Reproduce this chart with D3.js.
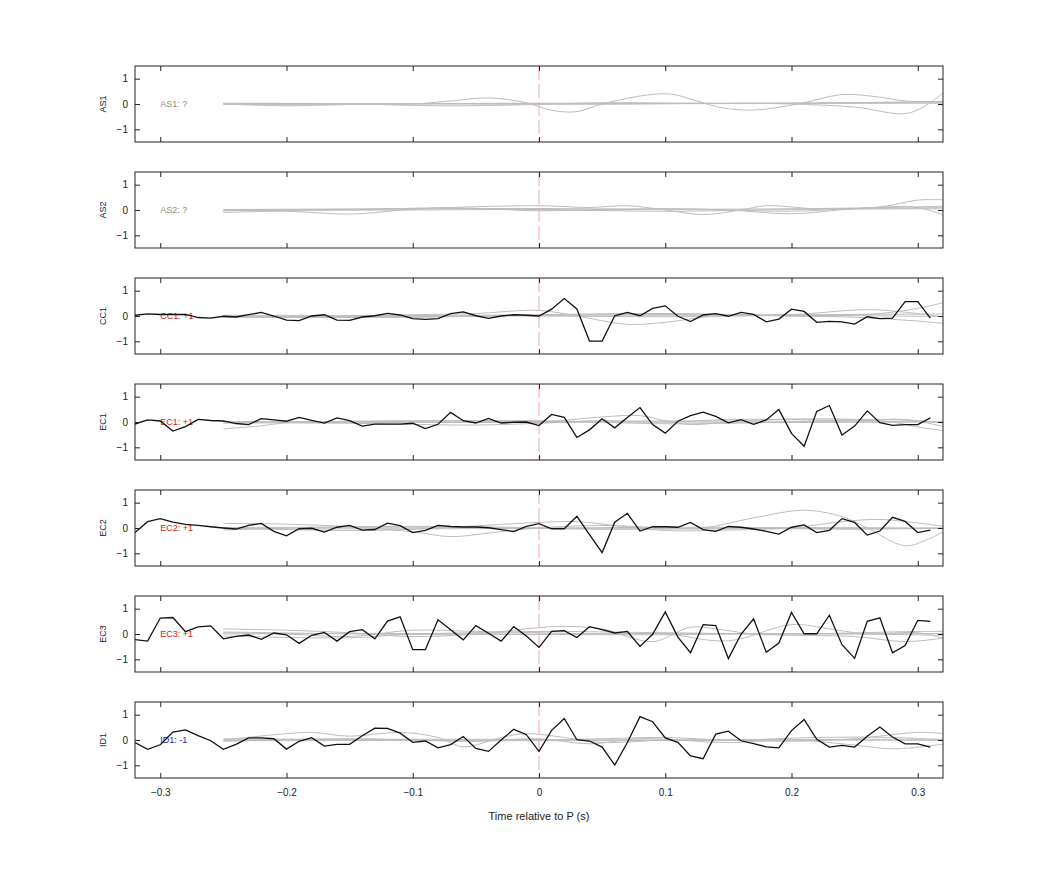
<!DOCTYPE html>
<html><head><meta charset="utf-8">
<script src="https://cdn.jsdelivr.net/npm/d3@7"></script>
<style>body{margin:0;background:#fff}</style>
</head><body>
<svg id="chart" width="1042" height="875"></svg>
<script>
const channels = ["AS1","AS2","CC1","EC1","EC2","EC3","ID1"];
const annotations = ["AS1: ?","AS2: ?","CC1: +1","EC1: +1","EC2: +1","EC3: +1","ID1: -1"];
const annotColors = ["#8a8a8a","#8a8a8a","#d42020","#d42020","#d42020","#d42020","#2020c8"];
const xTicks = [-0.3,-0.2,-0.1,0,0.1,0.2,0.3];
const yTicks = [-1,0,1];
const times = [-0.32,-0.31,-0.30,-0.29,-0.28,-0.27,-0.26,-0.25,-0.24,-0.23,-0.22,-0.21,-0.20,-0.19,-0.18,-0.17,-0.16,-0.15,-0.14,-0.13,-0.12,-0.11,-0.10,-0.09,-0.08,-0.07,-0.06,-0.05,-0.04,-0.03,-0.02,-0.01,0.00,
  0.01,0.02,0.03,0.04,0.05,0.06,0.07,0.08,0.09,0.10,0.11,0.12,0.13,0.14,0.15,0.16,0.17,0.18,0.19,0.20,0.21,0.22,0.23,0.24,0.25,0.26,0.27,0.28,0.29,0.30,0.31];

const blackCC1 = [0.03,0.08,0.06,0.06,0.06,-0.06,-0.08,-0.01,-0.04,0.05,0.14,0,-0.16,-0.18,0,0.05,-0.16,-0.17,-0.04,0.01,0.1,0.04,-0.1,-0.13,-0.1,0.09,0.16,0.01,-0.09,0,0.05,0.03,0,
  0.27,0.69,0.28,-0.99,-0.99,0.01,0.14,0.01,0.3,0.4,-0.01,-0.22,0.04,0.09,-0.01,0.14,0.06,-0.23,-0.12,0.27,0.18,-0.25,-0.21,-0.23,-0.32,-0.03,-0.1,-0.08,0.57,0.57,-0.08];
const blackEC1 = [-0.08,0.08,0.04,-0.36,-0.18,0.1,0.06,0.04,-0.06,-0.1,0.13,0.08,0.03,0.18,0.06,-0.04,0.16,0.05,-0.16,-0.08,-0.08,-0.08,-0.05,-0.26,-0.09,0.38,0.05,-0.04,0.14,-0.04,-0.01,0,-0.14,
  0.3,0.18,-0.61,-0.31,0.13,-0.23,0.18,0.57,-0.1,-0.44,0.03,0.25,0.39,0.22,-0.03,0.09,-0.09,0.08,0.49,-0.45,-0.96,0.42,0.65,-0.51,-0.16,0.44,-0.03,-0.13,-0.1,-0.1,0.16];
const blackEC2 = [-0.18,0.25,0.37,0.23,0.14,0.1,0.05,0,-0.04,0.1,0.18,-0.13,-0.31,-0.03,-0.01,-0.16,0.03,0.1,-0.08,-0.06,0.19,0.09,-0.18,-0.09,0.1,0.06,0.04,0.04,0.01,-0.06,-0.14,0.06,0.17,
  -0.03,-0.03,0.46,-0.26,-0.97,0.23,0.58,-0.12,0.05,0.05,0.03,0.22,-0.06,-0.13,0.06,0.03,-0.04,-0.13,-0.24,0.03,0.12,-0.18,-0.09,0.37,0.22,-0.28,-0.12,0.42,0.26,-0.18,-0.08];
const blackEC3 = [-0.22,-0.28,0.63,0.65,0.09,0.28,0.32,-0.19,-0.09,-0.04,-0.21,0.04,-0.03,-0.37,-0.05,0.06,-0.28,0.09,0.17,-0.19,0.51,0.68,-0.62,-0.62,0.56,0.17,-0.23,0.33,0.03,-0.28,0.29,-0.08,-0.53,
  0.1,0.13,-0.14,0.29,0.17,0.04,0.1,-0.49,-0.01,0.87,-0.12,-0.74,0.37,0.33,-0.97,-0.01,0.6,-0.72,-0.36,0.85,0.01,0.01,0.74,-0.42,-0.96,0.5,0.64,-0.74,-0.46,0.54,0.5];
const blackID1 = [-0.1,-0.37,-0.19,0.31,0.4,0.17,-0.03,-0.37,-0.17,0.08,0.08,0.05,-0.36,-0.05,0.09,-0.24,-0.17,-0.17,0.17,0.47,0.46,0.27,-0.09,-0.04,-0.31,-0.18,0.14,-0.33,-0.45,0,0.42,0.21,-0.45,
  0.38,0.85,0.01,-0.04,-0.28,-0.99,-0.1,0.92,0.72,0.08,-0.09,-0.63,-0.74,0.23,0.35,-0.03,-0.14,-0.27,-0.31,0.37,0.81,0.03,-0.28,-0.21,-0.28,0.15,0.51,0.12,-0.15,-0.15,-0.28];
const blackSeries = [null,null,blackCC1,blackEC1,blackEC2,blackEC3,blackID1];

// grey reference traces: [time, value] samples
const greyAS1 = [
  [[-0.25,0],[-0.2,-0.03],[-0.15,-0.02],[-0.1,0.0],[-0.07,0.12],[-0.04,0.24],[-0.01,0.05],[0.01,-0.25],[0.03,-0.3],[0.05,0],[0.085,0.35],[0.105,0.39],[0.125,0.12],[0.145,-0.15],[0.17,-0.24],[0.205,0],[0.24,0.37],[0.265,0.3],[0.29,0.12],[0.32,0.06]],
  [[-0.25,0.0],[-0.2,-0.07],[-0.15,-0.02],[-0.05,0.02],[0.05,0.0],[0.15,0.03],[0.2,0.0],[0.25,-0.12],[0.29,-0.38],[0.305,-0.1],[0.322,0.5]],
  [[-0.25,0.02],[-0.15,0.0],[-0.08,-0.07],[-0.03,-0.05],[0.05,0.05],[0.15,0.02],[0.25,0.05],[0.32,0.1]],
  [[-0.25,0.03],[-0.1,0.02],[0.0,0.03],[0.1,0.02],[0.2,0.04],[0.32,0.08]],
  [[-0.25,-0.01],[-0.1,0.0],[0.0,-0.01],[0.1,0.01],[0.2,0.02],[0.32,0.03]]
];
const greyAS2 = [
  [[-0.25,-0.1],[-0.2,-0.05],[-0.15,-0.16],[-0.1,0.03],[-0.07,0.08],[-0.02,0.02],[0.05,0.0],[0.1,0.05],[0.15,0.0],[0.2,-0.05],[0.25,0.05],[0.3,0.08],[0.32,0.1]],
  [[-0.25,0.0],[-0.15,0.02],[-0.08,0.09],[0.0,0.17],[0.04,0.1],[0.07,0.17],[0.1,0.0],[0.13,-0.18],[0.16,0.0],[0.18,0.17],[0.22,0.05],[0.27,0.12],[0.3,0.39],[0.322,0.4]],
  [[-0.25,-0.03],[-0.15,0.02],[-0.05,0.05],[0.0,-0.03],[0.05,0.02],[0.1,0.04],[0.15,0.0],[0.2,-0.15],[0.25,0.05],[0.3,0.1],[0.322,-0.25]],
  [[-0.25,0.02],[-0.1,0.05],[0.0,0.06],[0.1,0.03],[0.2,0.05],[0.28,0.1],[0.32,0.15]],
  [[-0.25,-0.02],[-0.1,0.0],[0.0,0.02],[0.1,-0.05],[0.2,0.02],[0.32,0.05]]
];
const greyCC1 = [
  [[-0.25,0.0],[-0.2,-0.03],[-0.1,0.05],[-0.05,0.1],[0.0,0.22],[0.03,0.0],[0.07,-0.33],[0.1,-0.25],[0.14,0.0],[0.2,0.05],[0.26,0.25],[0.29,0.15],[0.322,-0.05]],
  [[-0.25,-0.05],[-0.15,-0.06],[-0.05,0.0],[0.05,0.05],[0.15,0.05],[0.22,0.0],[0.27,0.1],[0.3,0.3],[0.322,0.55]],
  [[-0.25,0.0],[-0.1,-0.05],[0.0,0.05],[0.1,0.1],[0.2,0.0],[0.25,-0.05],[0.3,-0.2],[0.322,-0.3]],
  [[-0.25,0.03],[-0.1,0.02],[0.0,0.04],[0.1,0.03],[0.2,0.05],[0.322,0.08]],
  [[-0.25,-0.03],[-0.1,-0.02],[0.0,0.0],[0.1,-0.03],[0.2,0.02],[0.322,-0.02]]
];
const greyEC1 = [
  [[-0.25,-0.27],[-0.22,-0.15],[-0.2,-0.03],[-0.15,0.03],[-0.1,0.05],[-0.05,0.05],[0.0,0.0],[0.05,0.2],[0.08,0.25],[0.1,0.05],[0.12,-0.1],[0.15,0.0],[0.2,0.12],[0.25,0.1],[0.28,0.0],[0.3,-0.2],[0.322,-0.35]],
  [[-0.25,0.0],[-0.15,-0.05],[-0.05,-0.12],[0.0,-0.05],[0.05,0.05],[0.1,0.0],[0.15,0.1],[0.2,0.1],[0.25,0.05],[0.29,0.1],[0.322,-0.2]],
  [[-0.25,-0.02],[-0.1,0.03],[0.0,0.05],[0.1,-0.07],[0.15,-0.05],[0.2,0.0],[0.25,0.1],[0.3,0.05],[0.322,-0.05]],
  [[-0.25,0.02],[-0.1,0.0],[0.0,0.02],[0.1,0.04],[0.2,0.03],[0.322,0.02]],
  [[-0.25,-0.04],[-0.1,-0.02],[0.0,-0.02],[0.1,0.0],[0.2,-0.02],[0.322,0.0]]
];
const greyEC2 = [
  [[-0.25,0.18],[-0.2,0.15],[-0.15,0.05],[-0.1,-0.15],[-0.07,-0.34],[-0.04,-0.2],[0.0,0.0],[0.05,0.1],[0.1,0.0],[0.13,0.0],[0.17,0.4],[0.21,0.7],[0.24,0.45],[0.26,0.0],[0.29,-0.7],[0.31,-0.4],[0.322,-0.1]],
  [[-0.25,0.0],[-0.15,-0.1],[-0.1,-0.05],[0.0,0.22],[0.03,0.25],[0.06,0.1],[0.1,-0.1],[0.15,-0.08],[0.2,0.0],[0.24,0.25],[0.27,0.34],[0.3,0.2],[0.322,0.05]],
  [[-0.25,-0.08],[-0.15,0.05],[-0.05,0.05],[0.05,-0.05],[0.15,0.0],[0.25,-0.05],[0.322,0.0]],
  [[-0.25,0.02],[-0.1,0.03],[0.0,0.0],[0.1,0.03],[0.2,0.02],[0.322,0.0]],
  [[-0.25,-0.03],[-0.1,-0.03],[0.0,-0.02],[0.1,-0.04],[0.2,-0.02],[0.322,-0.02]]
];
const greyEC3 = [
  [[-0.25,0.2],[-0.2,0.15],[-0.15,0.05],[-0.1,-0.1],[-0.05,0.0],[0.0,0.25],[0.02,0.3],[0.05,0.2],[0.09,-0.3],[0.12,0.27],[0.14,0.2],[0.17,0.0],[0.2,-0.05],[0.25,-0.1],[0.29,-0.3],[0.322,-0.15]],
  [[-0.25,0.05],[-0.2,0.0],[-0.15,-0.1],[-0.1,0.15],[-0.05,0.1],[0.0,0.05],[0.05,0.0],[0.1,0.0],[0.15,-0.27],[0.2,0.37],[0.23,0.2],[0.26,0.0],[0.3,0.05],[0.322,-0.2]],
  [[-0.25,-0.08],[-0.15,-0.15],[-0.1,0.0],[-0.05,0.05],[0.0,0.1],[0.1,0.05],[0.2,0.0],[0.3,0.1],[0.322,0.1]],
  [[-0.25,0.0],[-0.1,0.02],[0.0,0.0],[0.1,0.02],[0.2,0.0],[0.322,0.02]],
  [[-0.25,0.08],[-0.1,-0.02],[0.0,-0.02],[0.1,-0.03],[0.2,0.02],[0.322,-0.05]]
];
const greyID1 = [
  [[-0.25,0.0],[-0.2,0.25],[-0.18,0.3],[-0.15,0.15],[-0.11,0.3],[-0.08,0.1],[-0.06,-0.27],[-0.03,0.1],[-0.01,0.25],[0.02,0.1],[0.05,-0.1],[0.1,0.0],[0.15,0.0],[0.2,-0.05],[0.25,0.05],[0.3,0.3],[0.322,0.25]],
  [[-0.25,-0.05],[-0.15,0.05],[-0.05,-0.05],[0.0,0.05],[0.04,-0.15],[0.08,0.05],[0.15,-0.1],[0.2,0.0],[0.25,-0.2],[0.28,-0.35],[0.322,-0.15]],
  [[-0.25,0.05],[-0.1,0.0],[0.0,0.0],[0.05,0.05],[0.1,0.1],[0.15,0.0],[0.22,0.1],[0.28,0.1],[0.322,0.0]],
  [[-0.25,0.0],[-0.1,0.03],[0.0,0.02],[0.1,0.0],[0.2,0.02],[0.322,0.03]],
  [[-0.25,-0.03],[-0.1,-0.02],[0.0,-0.03],[0.1,-0.02],[0.2,0.0],[0.322,-0.02]]
];
const greySeries = [greyAS1,greyAS2,greyCC1,greyEC1,greyEC2,greyEC3,greyID1];

const svg = d3.select("#chart");
const left = 135, right = 943, top0 = 66, pH = 76, gap = 106;
const font = "'Liberation Sans', Arial, Helvetica, sans-serif";
const x = d3.scaleLinear().domain([-0.32, 0.32]).range([left, right]);

channels.forEach((ch, i) => {
  const t = top0 + i * gap;
  const y = d3.scaleLinear().domain([-1.5, 1.5]).range([t + pH, t]);
  const g = svg.append("g");
  const clipId = "clip" + i;
  svg.append("clipPath").attr("id", clipId).append("rect")
    .attr("x", left).attr("y", t).attr("width", right - left).attr("height", pH);

  // annotation text (under the lines)
  g.append("text").attr("x", x(-0.3)).attr("y", y(0)).attr("dy", "0.35em")
    .attr("font-family", font).attr("font-size", 9).attr("fill", annotColors[i])
    .text(annotations[i]);

  // zero dashed marker
  g.append("line").attr("x1", x(0)).attr("x2", x(0)).attr("y1", t).attr("y2", t + pH)
    .attr("stroke", "#eca4a4").attr("stroke-width", 1).attr("stroke-dasharray", "14,4");

  const lineG = d3.line().x(d => x(d[0])).y(d => y(d[1])).curve(d3.curveCatmullRom.alpha(0.5));
  const gl = g.append("g").attr("clip-path", `url(#${clipId})`);
  greySeries[i].forEach(s => {
    gl.append("path").attr("d", lineG(s)).attr("fill", "none")
      .attr("stroke", "#bdbdbd").attr("stroke-width", 1);
  });
  if (blackSeries[i]) {
    const lineB = d3.line().x((d, k) => x(times[k])).y(d => y(d));
    gl.append("path").attr("d", lineB(blackSeries[i])).attr("fill", "none")
      .attr("stroke", "#111").attr("stroke-width", 1.3).attr("stroke-linejoin", "miter");
  }

  // frame
  g.append("rect").attr("x", left).attr("y", t).attr("width", right - left).attr("height", pH)
    .attr("fill", "none").attr("stroke", "#222").attr("stroke-width", 1);

  // axes
  const isLast = i === channels.length - 1;
  g.append("g").attr("transform", `translate(0,${t + pH})`)
    .call(d3.axisBottom(x).tickValues(xTicks).tickSize(-5).tickSizeOuter(0).tickPadding(11)
      .tickFormat(isLast ? (d => d === 0 ? "0" : d3.format("")(d)) : () => ""));
  g.append("g").attr("transform", `translate(0,${t})`)
    .call(d3.axisTop(x).tickValues(xTicks).tickSize(-5).tickSizeOuter(0).tickFormat(() => ""));
  g.append("g").attr("transform", `translate(${left},0)`)
    .call(d3.axisLeft(y).tickValues(yTicks).tickSize(-5).tickSizeOuter(0).tickPadding(7).tickFormat(d3.format("d")));
  g.append("g").attr("transform", `translate(${right},0)`)
    .call(d3.axisRight(y).tickValues(yTicks).tickSize(-5).tickSizeOuter(0).tickFormat(() => ""));
  g.selectAll(".domain").remove();
  g.selectAll(".tick line").attr("stroke", "#222");
  g.selectAll(".tick text").attr("font-family", font).attr("font-size", 10).attr("fill", "#222");

  // channel label
  g.append("text").attr("transform", `translate(106,${t + pH / 2}) rotate(-90)`)
    .attr("text-anchor", "middle").attr("font-family", font).attr("font-size", 9).attr("fill", "#222")
    .text(ch);
});

svg.append("text").attr("x", x(0)).attr("y", 820).attr("text-anchor", "middle")
  .attr("font-family", font).attr("font-size", 11).attr("fill", "#222").text("Time relative to P (s)");
</script>
</body></html>
